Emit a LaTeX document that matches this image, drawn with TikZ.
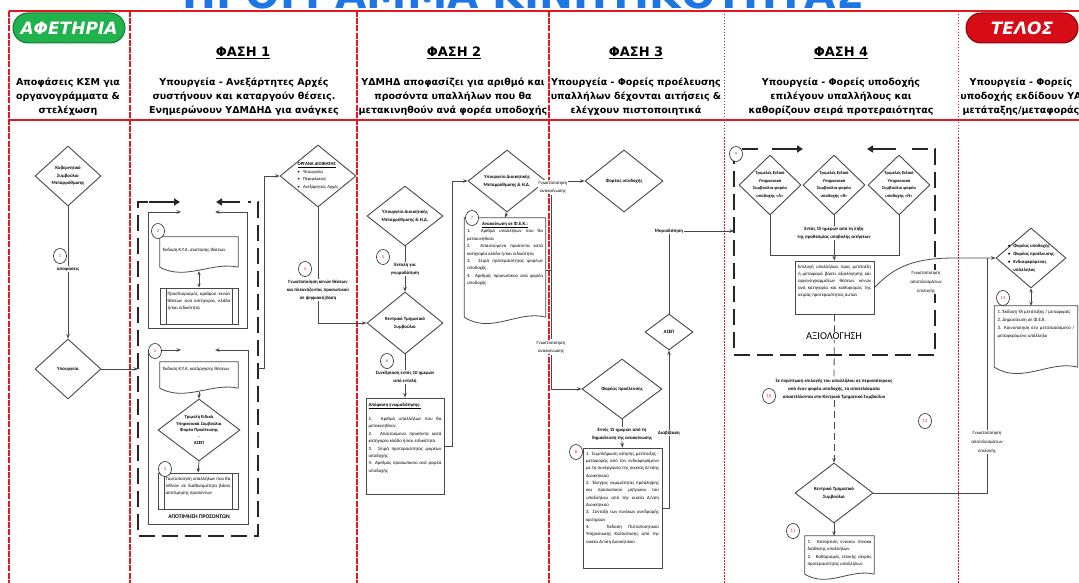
\documentclass[tikz,border=0pt]{standalone}
\usepackage{fontspec}
\setmainfont{Carlito}
\newfontfamily\hdfont{DejaVu Sans}
\usetikzlibrary{shapes.geometric,arrows.meta,calc}
\definecolor{frameRed}{RGB}{228,22,32}
\definecolor{pillGreen}{RGB}{32,178,76}
\definecolor{pillGreenD}{RGB}{22,120,52}
\definecolor{pillRed}{RGB}{214,12,22}
\definecolor{pillRedD}{RGB}{140,0,10}
\definecolor{titleBlue}{RGB}{30,118,228}
\definecolor{lineGray}{RGB}{72,72,72}
\definecolor{numRed}{RGB}{232,30,40}
\newcommand\wavy[2][4]{\draw[ln] ($(#2.south east)+(0,-#1)$) -- (#2.north east) -- (#2.north west) -- ($(#2.south west)+(0,-#1)$) .. controls ($(#2.south west)!0.33!(#2.south east)+(0,2.5*#1)$) and ($(#2.south west)!0.67!(#2.south east)+(0,-2.5*#1)$) .. ($(#2.south east)+(0,-#1)$);}
\begin{document}
\begin{tikzpicture}[x=1pt,y=-1pt,
 ln/.style={draw=lineGray,line width=0.8pt},
 arr/.style={ln,-{Stealth[length=4.5pt,width=3.6pt]}},
 darr/.style={ln,{Stealth[length=4pt,width=3.4pt]}-{Stealth[length=4pt,width=3.4pt]}},
 dia/.style={shape=diamond,draw=lineGray,line width=0.9pt,inner sep=0pt,fill=white},
 dtxt/.style={align=center,font=\fontsize{4.8}{7.5}\selectfont\bfseries,inner sep=0pt},
 tbox/.style={draw=lineGray,line width=0.9pt,inner sep=0pt,fill=white},
 doc/.style={inner sep=0pt},
 pp/.style={tbox,path picture={\draw[lineGray,line width=0.7pt] ([xshift=6pt]path picture bounding box.north west) -- ([xshift=6pt]path picture bounding box.south west) ([xshift=-6pt]path picture bounding box.north east) -- ([xshift=-6pt]path picture bounding box.south east);}},
 btxt/.style={anchor=north,align=justify,text width=#1,font=\fontsize{4.8}{7.4}\selectfont,inner sep=0pt,yshift=-3pt},
 num/.style={ellipse,draw=black!85,line width=0.6pt,fill=white,minimum width=13pt,minimum height=15pt,inner sep=0pt,font=\fontsize{4.5}{5}\selectfont\color{numRed}},
 lbl/.style={align=center,font=\fontsize{4.8}{8}\selectfont\bfseries,inner sep=1pt},
 hd/.style={align=center,font=\hdfont\bfseries\fontsize{9.5}{14}\selectfont,inner sep=0pt},
 phase/.style={font=\hdfont\bfseries\fontsize{13}{15}\selectfont,inner sep=0pt,anchor=base},
 pill/.style={rounded corners=15pt,minimum width=112pt,minimum height=30pt,line width=1pt,text=white,font=\hdfont\bfseries\itshape\fontsize{17}{20}\selectfont,inner sep=0pt},
 bigdash/.style={draw=black!85,line width=2.4pt,dash pattern=on 16pt off 7pt},
 bigarr/.style={draw=black!85,line width=2.4pt,-{Triangle[length=6pt,width=7pt]}},
 frm/.style={draw=frameRed,line width=1.6pt},
 vdash/.style={draw=frameRed,line width=1.8pt,dash pattern=on 6pt off 1.2pt},
 vdot/.style={draw=frameRed,line width=0.9pt,dash pattern=on 1.5pt off 1.5pt}
]
\useasboundingbox (0,0) rectangle (1079,583);
\clip (0,0) rectangle (1079,583);
% title (cut off at the top edge)
\begin{scope}
\clip (0,0) rectangle (1079,10.5);
\node[anchor=base,inner sep=0pt,text=titleBlue,font=\hdfont\bfseries\fontsize{40.5}{42}\selectfont] (title) at (523,8.5) {ΠΡΟΓΡΑΜΜΑ ΚΙΝΗΤΙΚΟΤΗΤΑΣ};
\end{scope}
% grid
\draw[frm] (1090,11) -- (9,11);
\draw[vdash] (9,11) -- (9,600);
\draw[frm] (9,120) -- (1090,120);
\draw[vdash] (130,11) -- (130,600);
\draw[vdash] (357,11) -- (357,600);
\draw[vdash,line width=2.2pt] (549,11) -- (549,600);
\draw[vdot] (724,11) -- (724,600);
\draw[vdot] (958,11) -- (958,600);
% header
\node[pill,fill=pillGreen,draw=pillGreenD] (start) at (69,28) {ΑΦΕΤΗΡΙΑ};
\node[pill,fill=pillRed,draw=pillRedD] (end) at (1022,28) {ΤΕΛΟΣ};
\node[phase] (ph1) at (243,57) {\underline{ΦΑΣΗ 1}};
\node[phase] (ph2) at (454,57) {\underline{ΦΑΣΗ 2}};
\node[phase] (ph3) at (636,57) {\underline{ΦΑΣΗ 3}};
\node[phase] (ph4) at (841,57) {\underline{ΦΑΣΗ 4}};
\node[hd] (h0) at (68,97) {Αποφάσεις ΚΣΜ για\\οργανογράμματα \&\\στελέχωση};
\node[hd] (h1) at (244,97) {Υπουργεία - Ανεξάρτητες Αρχές\\συστήνουν και καταργούν θέσεις.\\Ενημερώνουν ΥΔΜΔΗΔ για ανάγκες};
\node[hd] (h2) at (453,97) {ΥΔΜΗΔ αποφασίζει για αριθμό και\\προσόντα υπαλλήλων που θα\\μετακινηθούν ανά φορέα υποδοχής};
\node[hd] (h3) at (636,97) {Υπουργεία - Φορείς προέλευσης\\υπαλλήλων δέχονται αιτήσεις \&\\ελέγχουν πιστοποιητικά};
\node[hd] (h4) at (841,97) {Υπουργεία - Φορείς υποδοχής\\επιλέγουν υπαλλήλους και\\καθορίζουν σειρά προτεραιότητας};
\node[hd] (h5) at (1021,97) {Υπουργεία - Φορείς\\υποδοχής εκδίδουν ΥΑ\\μετάταξης/μεταφοράς};

% ---------- column 0
\node[dia,minimum width=66pt,minimum height=60pt,label={[dtxt]center:{Κυβερνητικό\\Συμβούλιο\\Μεταρρύθμισης}}] (kysm) at (68,176) {};
\node[lbl] (l1) at (68,269) {αποφάσεις};
\node[dia,minimum width=66pt,minimum height=60pt,label={[dtxt]center:{Υπουργεία}}] (ypo) at (68,369) {};
\draw[ln] (kysm.south) -- (l1.north);
\draw[arr] (l1.south) -- (ypo.north);
\node[num] (n1) at (60,256) {1};
\coordinate (f1w) at (138,369);
\draw[arr] (ypo.east) -- (f1w);

% ---------- column 1
\draw[bigdash] (148,202) -- (138,202) -- (138,536) -- (258,536) -- (258,202) -- (248,202);
\draw[bigarr] (149,202) -- (180,202);
\draw[bigarr] (240,202) -- (216,202);
\draw[arr] (148,328) -- (148,212) -- (181,212);
\draw[arr] (247,212) -- (215,212);
\draw[ln] (247,212) -- (247,328) -- (148,328);
\draw[arr] (148,524) -- (148,350) -- (181,350);
\draw[arr] (248,350) -- (215,350);
\draw[ln] (248,350) -- (248,524) -- (148,524);

\node[doc,minimum width=78pt,minimum height=34pt,label={[btxt=72pt,yshift=-8pt]north:{Έκδοση Κ.Υ.Α. σύστασης θέσεων}}] (doc2a) at (199,254) {};
\wavy{doc2a}
\node[pp,minimum width=78pt,minimum height=36pt,label={[btxt=63pt,yshift=-1pt]north:{Προσδιορισμός αριθμού κενών θέσεων ανά κατηγορία, κλάδο ή/και ειδικότητα}}] (pp2a) at (199,306) {};
\draw[darr] (doc2a.south) -- (pp2a.north);
\node[num] (n2a) at (158,231) {2};

\node[doc,minimum width=78pt,minimum height=30pt,label={[btxt=72pt,yshift=-2pt]north:{Έκδοση Κ.Υ.Α. κατάργησης θέσεων}}] (doc2b) at (199,377) {};
\wavy{doc2b}
\node[dia,minimum width=82pt,minimum height=62pt,label={[dtxt,font=\fontsize{4.6}{6.6}\selectfont\bfseries]center:{Τριμελή Ειδικά\\Υπηρεσιακά Συμβούλια\\Φορέα Προέλευσης\\-\\ΑΣΕΠ}}] (tes) at (199,430) {};
\draw[arr] (doc2b.south) -- (tes.north);
\node[pp,minimum width=80pt,minimum height=36pt,label={[btxt=65pt,yshift=-1pt]north:{Ταυτοποίηση υπαλλήλων που θα τεθούν σε διαθεσιμότητα βάσει αποτίμησης προσόντων}}] (pp2b) at (198,491) {};
\draw[arr] (tes.south) -- (pp2b.north);
\node[num] (n2b) at (155,351) {2};
\node[num] (n3) at (165,469) {3};
\node[inner sep=0pt,font=\fontsize{5.6}{6}\selectfont\bfseries] (apot) at (199,517) {ΑΠΟΤΙΜΗΣΗ ΠΡΟΣΟΝΤΩΝ};

\node[dia,minimum width=76pt,minimum height=62pt,label={[dtxt,align=left,font=\fontsize{4.6}{7.5}\selectfont]center:{\textbf{\underline{ΟΡΓΑΝΑ ΔΙΟΙΚΗΣΗΣ}}\\ \textbullet\hspace{3pt}Υπουργεία\\ \textbullet\hspace{3pt}Περιφέρειες\\ \textbullet\hspace{3pt}Ανεξάρτητες Αρχές}}] (org) at (318,176) {};
\coordinate (f1e) at (258,368);
\draw[arr] (f1e) -- ++(6,0) |- (org.west);
\node[lbl] (l4) at (318,290) {Γνωστοποίηση κενών θέσεων\\και πλεονάζοντος προσωπικού\\σε ψηφιακή βάση};
\draw[ln] (org.south) -- (l4.north);
\node[num] (n4) at (305,269) {4};

% ---------- column 2
\node[dia,minimum width=76pt,minimum height=60pt,label={[dtxt]center:{Υπουργείο Διοικητικής\\Μεταρρύθμισης \& Η.Δ.}}] (ypdm) at (405,216) {};
\node[lbl] (l5) at (405,269) {Εντολή για\\γνωμοδότηση};
\node[dia,minimum width=76pt,minimum height=62pt,label={[dtxt]center:{Κεντρικό Τμηματικό\\Συμβούλιο}}] (kts) at (405,323) {};
\draw[ln] (ypdm.south) -- (l5.north);
\draw[arr] (l5.south) -- (kts.north);
\draw[arr] (l4.south) |- (kts.west);
\node[num] (n5) at (383,257) {5};
\node[lbl] (l6) at (405,377) {Συνεδρίαση εντός 10 ημερών\\από εντολή};
\node[tbox,minimum width=78pt,minimum height=96pt,label={[btxt=73pt,yshift=-2pt]north:{\textbf{\underline{Απόφαση γνωμοδότησης:}}\\[7pt]1. Αριθμό υπαλλήλων που θα μετακινηθούν\\2. Απαιτούμενα προσόντα κατά κατηγορία κλάδο ή/και ειδικότητα\\3. Σειρά προτεραιότητας φορέων υποδοχής\\4. Αριθμός προσωπικού ανά φορέα υποδοχής}}] (b6) at (405,446) {};
\draw[ln] (kts.south) -- (l6.north);
\draw[arr] (l6.south) -- (b6.north);
\node[num] (n6) at (387,361) {6};

\node[dia,minimum width=78pt,minimum height=62pt,label={[dtxt]center:{Υπουργείο Διοικητικής\\Μεταρρύθμισης \& Η.Δ.}}] (ypdm2) at (507,181) {};
\draw[arr] (b6.east) -- ++(8,0) |- (ypdm2.west);
\node[doc,minimum width=81pt,minimum height=104pt,label={[btxt=76pt,yshift=-1pt]north:{\makebox[\linewidth]{\textbf{\underline{Ανακοίνωση σε Φ.Ε.Κ.:}}}\\1. Αριθμό υπαλλήλων που θα μετακινηθούν\\2. Απαιτούμενα προσόντα κατά κατηγορία κλάδο ή/και ειδικότητα\\3. Σειρά προτεραιότητας φορέων υποδοχής\\4. Αριθμός προσωπικού ανά φορέα υποδοχής}}] (doc7) at (505,270) {};
\wavy[5]{doc7}
\draw[arr] (ypdm2.south) -- (doc7.north);
\node[num] (n7) at (472,218) {7};

% ---------- column 3
\node[dia,minimum width=78pt,minimum height=62pt,label={[dtxt]center:{Φορέας υποδοχής}}] (fy) at (624,181) {};
\node[dia,minimum width=80pt,minimum height=60pt,label={[dtxt]center:{Φορέας προέλευσης}}] (fp) at (622,389) {};
\draw[arr] (ypdm2.east) -- (fy.west);
\node[lbl,fill=white,font=\fontsize{4.8}{8.5}\selectfont] (lA) at (553,187) {Γνωστοποίηση\\ανακοίνωσης};
\node[lbl,fill=white,font=\fontsize{4.8}{8.5}\selectfont] (lB) at (551,347) {Γνωστοποίηση\\ανακοίνωσης};
\draw[ln] (lA.south -| lB.north) -- (lB.north);
\draw[ln] (doc7.east) -- (doc7.east -| lB.north);
\draw[arr] (lB.south) |- (fp.west);

\node[lbl] (l8) at (622,434) {Εντός 15 ημερών από τη\\δημοσίευση της ανακοίνωσης};
\node[tbox,minimum width=79pt,minimum height=120pt,label={[btxt=73pt,yshift=-1pt,font=\fontsize{4.8}{7.35}\selectfont]north:{1. Συμπλήρωση αίτησης μετάταξης - μεταφοράς από τον ενδιαφερόμενο με τη συνεργασία της οικείας Δ/νσης Διοικητικού\\2. Έλεγχος νομιμότητας πρόσληψης και προσωπικού μητρώου του υπαλλήλου από την οικεία Δ/νση Διοικητικού\\3. Σύνταξη των πινάκων συνδρομής κριτηρίων\\4. Έκδοση Πιστοποιητικού Υπηρεσιακής Κατάστασης από την οικεία Δ/νση Διοικητικού}}] (b8) at (622.5,508) {};
\draw[ln] (fp.south) -- (l8.north);
\draw[arr] (l8.south) -- (b8.north);
\node[num] (n8) at (576,452) {8};
\node[dia,minimum width=48pt,minimum height=36pt,label={[dtxt]center:{ΑΣΕΠ}}] (asep) at (669,332) {};
\node[lbl] (lD) at (669,433) {Διαβίβαση};
\draw[ln] (b8.east) -| (lD.south);
\draw[arr] (lD.north) -- (asep.south);
\node[lbl] (lM) at (669,231) {Μοριοδότηση};
\draw[ln] (asep.north) -- (lM.south);
\coordinate (f4w) at (734,231);
\draw[arr] (lM.east) -- (f4w);

% ---------- column 4
\draw[bigdash] (758,149) -- (734,149) -- (734,355) -- (935,355) -- (935,149) -- (908,149);
\draw[bigarr] (772,149) -- (803,149);
\draw[bigarr] (896,149) -- (867,149);
\node[num] (n9) at (736,154) {9};
\node[dia,minimum width=62pt,minimum height=60pt,label={[dtxt,font=\fontsize{4.5}{7.5}\selectfont\bfseries]center:{Τριμελές Ειδικό\\Υπηρεσιακό\\Συμβούλιο φορέα\\υποδοχής «Α»}}] (t1) at (770,185) {};
\node[dia,minimum width=62pt,minimum height=60pt,label={[dtxt,font=\fontsize{4.5}{7.5}\selectfont\bfseries]center:{Τριμελές Ειδικό\\Υπηρεσιακό\\Συμβούλιο φορέα\\υποδοχής «Β»}}] (t2) at (834,185) {};
\node[dia,minimum width=62pt,minimum height=60pt,label={[dtxt,font=\fontsize{4.5}{7.5}\selectfont\bfseries]center:{Τριμελές Ειδικό\\Υπηρεσιακό\\Συμβούλιο φορέα\\υποδοχής «Ν»}}] (t3) at (899,185) {};
\node[lbl] (lE) at (834,233) {Εντός 15 ημερών από τη λήξη\\της προθεσμίας υποβολής αιτήσεων};
\coordinate (j9) at (834,255);
\node[tbox,minimum width=79pt,minimum height=53pt,label={[btxt=73pt,yshift=-1pt,font=\fontsize{4.8}{7.2}\selectfont]north:{Επιλογή υπαλλήλων προς μετάταξη ή μεταφορά βάσει αξιολόγησης και οργανογραμμάτων θέσεων κενών ανά κατηγορία και καθορισμός της σειράς προτεραιότητας αυτών}}] (b9) at (834.5,287.5) {};
\draw[ln] (t2.south) -- (lE.north);
\draw[ln] (lE.south) -- (j9);
\draw[ln] (t1.south) |- (j9);
\draw[ln] (t3.south) |- (j9);
\draw[arr] (j9) -- (b9.north);
\node[lbl] (lT) at (834,389) {Σε περίπτωση επιλογής του υπαλλήλου σε περισσότερους\\από έναν φορέα υποδοχής, τα αποτελέσματα\\αποστέλλονται στο Κεντρικό Τμηματικό Συμβούλιο};
\draw[ln,dash pattern=on 7pt off 4pt] (b9.south) -- (lT.north);
\node[inner sep=1pt,fill=white,font=\fontsize{10.5}{12}\selectfont] (axio) at (834,336) {ΑΞΙΟΛΟΓΗΣΗ};
\node[dia,minimum width=78pt,minimum height=60pt,label={[dtxt]center:{Κεντρικό Τμηματικό\\Συμβούλιο}}] (kts2) at (834,493) {};
\draw[arr,dash pattern=on 7pt off 4pt] (lT.south) -- (kts2.north);
\node[num] (n10) at (769,396) {10};
\node[num] (n12) at (925,421) {12};
\node[doc,minimum width=69pt,minimum height=42pt,label={[btxt=64pt,yshift=-1pt]north:{1. Κατάρτιση ενιαίου πίνακα διάθεσης υπαλλήλων\\2. Καθορισμός τελικής σειράς προτεραιότητας υπαλλήλων}}] (doc11) at (839.5,557) {};
\wavy{doc11}
\draw[arr] (kts2.south) -- (kts2.south |- doc11.north);
\node[num] (n11) at (793,531) {11};

% ---------- column 5
\node[dia,minimum width=70pt,minimum height=60pt,label={[dtxt,align=left,font=\fontsize{4.7}{8}\selectfont\bfseries]center:{\textbullet\hspace{3pt}Φορέας υποδοχής\\\textbullet\hspace{3pt}Φορέας προέλευσης\\\textbullet\hspace{3pt}Ενδιαφερόμενος\\\phantom{\textbullet\hspace{3pt}}υπάλληλος}}] (fd) at (1031,258) {};
\draw[arr] (b9.east) .. controls (895,266) and (915,258) .. (955,258) -- (fd.west);
\node[lbl,fill=white,font=\fontsize{4.8}{9}\selectfont] (lR) at (926,282) {Γνωστοποίηση\\αποτελεσμάτων\\επιλογής};
\node[lbl,fill=white,font=\fontsize{4.8}{9}\selectfont] (lG) at (987,442) {Γνωστοποίηση\\αποτελεσμάτων\\επιλογής};
\draw[ln] (kts2.east) -| (lG.south);
\draw[ln] (lG.north) -- (lG.north |- fd.west);
\node[doc,minimum width=83pt,minimum height=66pt,label={[btxt=77pt,yshift=-1pt,font=\fontsize{4.8}{8.2}\selectfont]north:{1. Έκδοση ΥΑ μετάταξης / μεταφοράς\\2. Δημοσίευση σε Φ.Ε.Κ.\\3. Κοινοποίηση στο μετατασσόμενο / μεταφερόμενο υπάλληλο}}] (doc13) at (1036,339) {};
\wavy[5]{doc13}
\draw[darr] (fd.south) -- (fd.south |- doc13.north);
\node[num] (n13) at (1003,298) {13};
\end{tikzpicture}
\end{document}
